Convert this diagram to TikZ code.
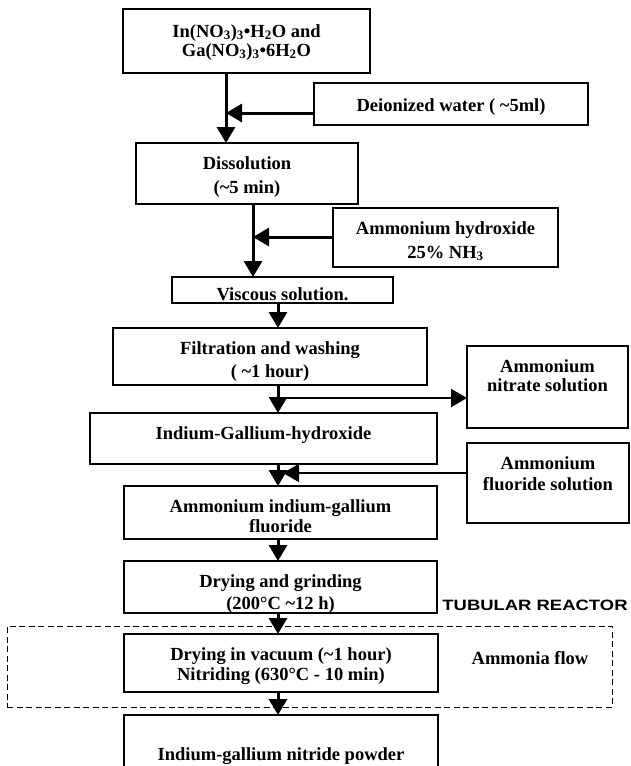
\documentclass[tikz,border=0pt]{standalone}
\usepackage{fontspec}
\setmainfont{Liberation Serif}
\newfontfamily\reactorfont[FakeStretch=1.23]{Liberation Sans}
\usetikzlibrary{arrows.meta}

\begin{document}
\begin{tikzpicture}[x=1pt,y=-1pt,>={Triangle[length=16pt,width=18pt]},every node/.style={font=\bfseries\fontsize{18.5}{21}\selectfont,align=center,inner sep=0pt},
box/.style 2 args={draw,line width=2.8pt,outer sep=0pt,minimum width=#1,minimum height=#2},txt/.style={label={[anchor=north,yshift=-13pt]north:{#1}}},flow/.style={line width=3pt,->}]
\useasboundingbox (0,0) rectangle (630,766); \clip (0,0) rectangle (630,766);
\node[draw,dash pattern=on 6pt off 3.5pt,line width=1pt,minimum width=605,minimum height=81] (reactor) at (309.5,666.5){};
\node[box={247}{64},label={[anchor=north,yshift=-15pt]north:{In(NO\textsubscript{3})\textsubscript{3}•H\textsubscript{2}O and\\[-2pt]Ga(NO\textsubscript{3})\textsubscript{3}•6H\textsubscript{2}O}}] (salts) at (246.5,41){};
\node[box={274}{42},label={[anchor=north,yshift=-15pt]north:{Deionized water ( \textasciitilde5ml)}}] (water) at (451,104){};
\node[box={222}{61},txt={Dissolution\\[3pt](\textasciitilde5 min)}] (diss) at (247,173.5){};
\node[box={225}{59},txt={Ammonium hydroxide\\[3pt]25\% NH\textsubscript{3}}] (hydrox) at (445.5,237.5){};
\node[box={221}{26},label={[anchor=north,yshift=-10pt]north:{Viscous solution.}}] (visc) at (282.5,290){};
\node[box={314}{57},txt={Filtration and washing\\[2pt]( \textasciitilde1 hour)}] (filt) at (270,356.5){};
\node[box={161}{82},txt={Ammonium\\[-2pt]nitrate solution}] (nitrate) at (547.5,387){};
\node[box={347}{51},txt={Indium-Gallium-hydroxide}] (hydroxide) at (263.5,438.5){};
\node[box={162}{80},txt={Ammonium\\fluoride solution}] (fluoride) at (548,483){};
\node[box={313}{53},txt={Ammonium indium-gallium\\[-1pt]fluoride}] (salt) at (280.5,512.5){};
\node[box={313}{52},txt={Drying and grinding\\[1pt](200°C \textasciitilde12 h)}] (dry) at (280.5,587){};
\node[box={314}{58},txt={Drying in vacuum (\textasciitilde1 hour)\\[-1pt]Nitriding (630°C - 10 min)}] (nitr) at (281,663){};
\node[box={314}{80},label={[anchor=north,yshift=-32pt]north:{Indium-gallium nitride powder}}] (powder) at (281,755){};
\node[anchor=base,font=\reactorfont\bfseries\fontsize{15}{18}\selectfont] (tubular) at (535,610){TUBULAR REACTOR};
\node[anchor=base] (ammonia) at (530,664){Ammonia flow};
\coordinate (j1) at (226,113); \coordinate (j2) at (253,237); \coordinate (j3) at (278,398); \coordinate (j4) at (278,473);
\draw[flow] (salts.south -| j1) -- (diss.north -| j1); \draw[flow] (water.west |- j1) -- (j1);
\draw[flow] (diss.south -| j2) -- (visc.north -| j2); \draw[flow] (hydrox.west |- j2) -- (j2);
\draw[flow] (visc.south -| j3) -- (filt.north -| j3);
\draw[flow] (filt.south -| j3) -- (hydroxide.north -| j3); \draw[flow,line width=2.4pt] (j3) -- (nitrate.west |- j3);
\draw[flow] (hydroxide.south -| j4) -- (salt.north -| j4); \draw[flow,line width=1.6pt] (fluoride.west |- j4) -- ([xshift=5pt]j4);
\draw[flow] (salt.south -| j4) -- (dry.north -| j4);
\draw[flow] (dry.south -| j4) -- (nitr.north -| j4);
\draw[flow] (nitr.south -| j4) -- (powder.north -| j4);
\end{tikzpicture}
\end{document}
